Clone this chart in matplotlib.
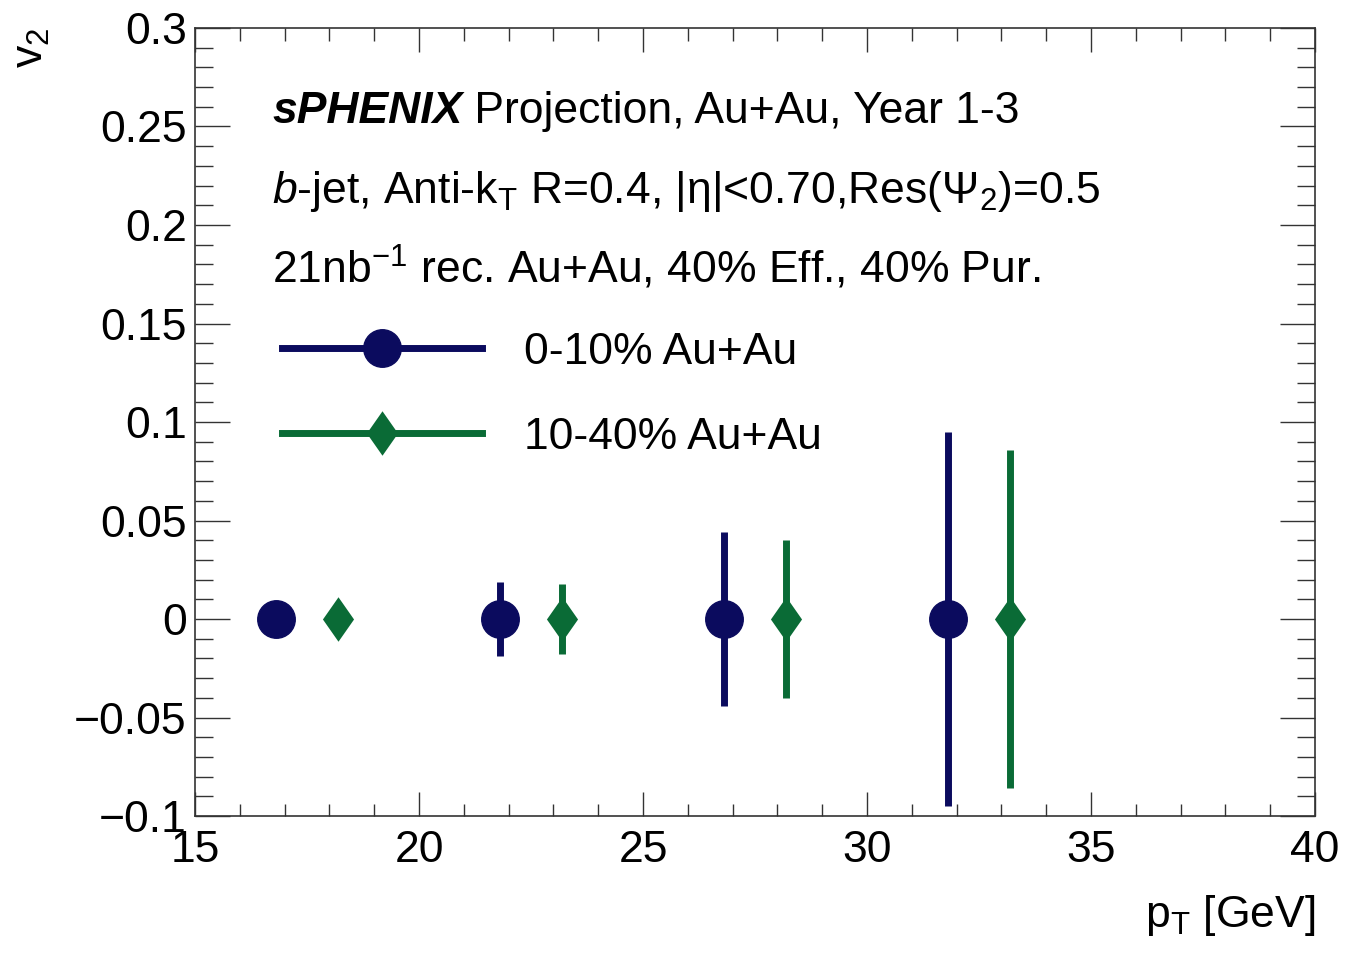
import matplotlib
matplotlib.use("Agg")
import matplotlib.pyplot as plt
from matplotlib.lines import Line2D
from matplotlib.ticker import MultipleLocator, FuncFormatter

# data
pt_central = [16.8, 21.8, 26.8, 31.8]
v2_central = [0.0, 0.0, 0.0, 0.0]
err_central = [0.008, 0.019, 0.044, 0.095]

pt_midcentral = [18.2, 23.2, 28.2, 33.2]
v2_midcentral = [0.0, 0.0, 0.0, 0.0]
err_midcentral = [0.007, 0.018, 0.040, 0.086]

labels = ["0-10% Au+Au", "10-40% Au+Au"]
colors = ["#0b0b5e", "#0a6b36"]

# ROOT-like fat diamond
diamond = [(0, 1), (0.7, 0), (0, -1), (-0.7, 0), (0, 1)]

plt.rcParams['font.family'] = ['Liberation Sans', 'DejaVu Sans']
plt.rcParams['mathtext.fontset'] = 'custom'
plt.rcParams['mathtext.rm'] = 'Liberation Sans'
plt.rcParams['mathtext.it'] = 'Liberation Sans:italic'
plt.rcParams['mathtext.bf'] = 'Liberation Sans:bold'

fig = plt.figure(figsize=(13.47, 9.55), dpi=100)
ax = fig.add_axes([0.1448, 0.1455, 0.9763 - 0.1448, 0.9707 - 0.1455])

# error bars + markers
ax.errorbar(pt_central, v2_central, yerr=err_central, fmt='o', color=colors[0],
            markersize=27, elinewidth=5, capsize=0, zorder=3)
ax.errorbar(pt_midcentral, v2_midcentral, yerr=err_midcentral, fmt='none',
            ecolor=colors[1], elinewidth=5, capsize=0, zorder=3)
ax.plot(pt_midcentral, v2_midcentral, linestyle='none', marker=diamond,
        markersize=32, color=colors[1], markeredgewidth=0, zorder=4)

ax.set_xlim(15, 40)
ax.set_ylim(-0.1, 0.3)


def fmt_tick(v, pos):
    if abs(v) < 1e-9:
        return "0"
    return ("%g" % round(v, 3)).replace("-", "\u2212")


ax.xaxis.set_major_locator(MultipleLocator(5))
ax.xaxis.set_minor_locator(MultipleLocator(1))
ax.yaxis.set_major_locator(MultipleLocator(0.05))
ax.yaxis.set_minor_locator(MultipleLocator(0.01))
ax.yaxis.set_major_formatter(FuncFormatter(fmt_tick))
ax.xaxis.set_major_formatter(FuncFormatter(fmt_tick))

ax.tick_params(axis='both', which='both', direction='in', top=True, right=True,
               color='#333333', width=1.0, labelsize=32)
ax.tick_params(axis='x', which='major', length=17, pad=10)
ax.tick_params(axis='x', which='minor', length=9)
ax.tick_params(axis='y', which='major', length=25, pad=6)
ax.tick_params(axis='y', which='minor', length=13)
for sp in ax.spines.values():
    sp.set_color('#333333')
    sp.set_linewidth(1.2)

ax.set_xlabel(r"p$_{\mathrm{T}}$ [GeV]", fontsize=32, loc='right', labelpad=16)
ax.set_ylabel(r"v$_{2}$", fontsize=32, loc='top', labelpad=16)

# annotation block
fs = 32
t1 = ax.text(0.06875, 0.8794, "sPHENIX", transform=ax.transAxes, fontsize=fs,
             fontweight='bold', style='italic', va='baseline')
ax.annotate(" Projection, Au+Au, Year 1-3", xy=(1, 0), xycoords=t1,
            fontsize=fs, va='bottom', ha='left')
ax.text(0.06875, 0.7779,
        r"$b$-jet, Anti-k$_{\mathrm{T}}$ R=0.4, |η|<0.70,Res(Ψ$_{2}$)=0.5",
        transform=ax.transAxes, fontsize=fs, va='baseline')
ax.text(0.06875, 0.6764, r"21nb$^{-1}$ rec. Au+Au, 40% Eff., 40% Pur.",
        transform=ax.transAxes, fontsize=fs, va='baseline')

handles = [
    Line2D([], [], color=colors[0], marker='o', markersize=27, linewidth=5),
    Line2D([], [], color=colors[1], marker=diamond, markersize=32,
           markeredgewidth=0, linewidth=5),
]
ax.legend(handles, labels, loc='upper left', bbox_to_anchor=(0.0777, 0.6146),
          frameon=False, fontsize=fs, handlelength=4.5, handletextpad=0.95,
          labelspacing=0.99, borderpad=0, borderaxespad=0)

fig.savefig("out.png", dpi=100)
